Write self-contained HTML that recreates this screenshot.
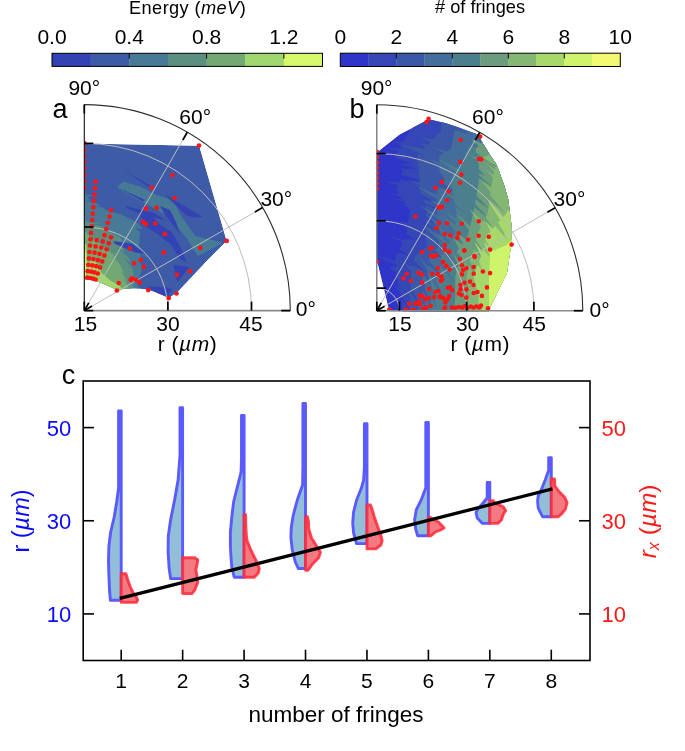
<!DOCTYPE html>
<html><head><meta charset="utf-8"><style>
html,body{margin:0;padding:0;background:#fff;width:685px;height:751px;overflow:hidden}
svg{display:block;will-change:transform}
text{font-family:"Liberation Sans",sans-serif}
</style></head><body>
<svg width="685" height="751" viewBox="0 0 685 751">
<rect width="685" height="751" fill="#fff"/>
<rect x="52.00" y="53.30" width="38.94" height="13.10" fill="#3343b4"/>
<rect x="90.64" y="53.30" width="38.94" height="13.10" fill="#3e5ba8"/>
<rect x="129.29" y="53.30" width="38.94" height="13.10" fill="#467a97"/>
<rect x="167.93" y="53.30" width="38.94" height="13.10" fill="#5b8f80"/>
<rect x="206.57" y="53.30" width="38.94" height="13.10" fill="#72a872"/>
<rect x="245.21" y="53.30" width="38.94" height="13.10" fill="#9fd76e"/>
<rect x="283.86" y="53.30" width="38.94" height="13.10" fill="#d5f96a"/>
<rect x="52.00" y="53.30" width="270.50" height="13.10" fill="none" stroke="#000" stroke-width="1"/>
<line x1="129.29" y1="53.30" x2="129.29" y2="58.60" stroke="#000" stroke-width="1"/>
<line x1="206.57" y1="53.30" x2="206.57" y2="58.60" stroke="#000" stroke-width="1"/>
<line x1="283.86" y1="53.30" x2="283.86" y2="58.60" stroke="#000" stroke-width="1"/>
<text x="52.00" y="43.80" font-size="21" text-anchor="middle" fill="#000" >0.0</text>
<text x="129.29" y="43.80" font-size="21" text-anchor="middle" fill="#000" >0.4</text>
<text x="206.57" y="43.80" font-size="21" text-anchor="middle" fill="#000" >0.8</text>
<text x="283.86" y="43.80" font-size="21" text-anchor="middle" fill="#000" >1.2</text>
<text x="187.60" y="13.90" font-size="18.2" text-anchor="middle" fill="#000" letter-spacing="0.4">Energy (<tspan font-style="italic">meV</tspan>)</text>
<rect x="340.30" y="53.20" width="28.30" height="13.30" fill="#2f35c9"/>
<rect x="368.30" y="53.20" width="28.30" height="13.30" fill="#3546b6"/>
<rect x="396.30" y="53.20" width="28.30" height="13.30" fill="#3b57a8"/>
<rect x="424.30" y="53.20" width="28.30" height="13.30" fill="#436e9c"/>
<rect x="452.30" y="53.20" width="28.30" height="13.30" fill="#4b7f8e"/>
<rect x="480.30" y="53.20" width="28.30" height="13.30" fill="#6b9d7c"/>
<rect x="508.30" y="53.20" width="28.30" height="13.30" fill="#85b774"/>
<rect x="536.30" y="53.20" width="28.30" height="13.30" fill="#a6d86c"/>
<rect x="564.30" y="53.20" width="28.30" height="13.30" fill="#cef46b"/>
<rect x="592.30" y="53.20" width="28.30" height="13.30" fill="#f2f972"/>
<rect x="340.30" y="53.20" width="280.00" height="13.30" fill="none" stroke="#000" stroke-width="1"/>
<line x1="396.30" y1="53.20" x2="396.30" y2="58.50" stroke="#000" stroke-width="1"/>
<line x1="452.30" y1="53.20" x2="452.30" y2="58.50" stroke="#000" stroke-width="1"/>
<line x1="508.30" y1="53.20" x2="508.30" y2="58.50" stroke="#000" stroke-width="1"/>
<line x1="564.30" y1="53.20" x2="564.30" y2="58.50" stroke="#000" stroke-width="1"/>
<text x="340.30" y="43.80" font-size="21" text-anchor="middle" fill="#000" >0</text>
<text x="396.30" y="43.80" font-size="21" text-anchor="middle" fill="#000" >2</text>
<text x="452.30" y="43.80" font-size="21" text-anchor="middle" fill="#000" >4</text>
<text x="508.30" y="43.80" font-size="21" text-anchor="middle" fill="#000" >6</text>
<text x="564.30" y="43.80" font-size="21" text-anchor="middle" fill="#000" >8</text>
<text x="620.30" y="43.80" font-size="21" text-anchor="middle" fill="#000" >10</text>
<text x="480.00" y="13.20" font-size="18.2" text-anchor="middle" fill="#000" ># of fringes</text>
<defs><clipPath id="ca"><polygon points="84.3,143.5 199.2,145.7 226.7,241 207.7,260 177,292.8 168.5,298.3 156,292.5 148.2,290.1 142.4,288.9 133,288.3 123.7,288.9 117.3,290.1 107.4,285.4 95.7,280.7 84.3,279"/></clipPath>
<clipPath id="cb"><polygon points="376.8,152.4 399.5,134.5 425,121.2 431.2,119.7 446,123.3 454.4,126.1 477.7,134.4 482.2,142.2 491,156.6 496.6,164.4 504.4,186 508.3,199.5 511.5,225.8 511.8,242.6 510,252.1 506.9,273.6 490.1,307.3 488.5,311.5 389.3,311.5 377,261"/></clipPath>
<clipPath id="qa"><rect x="84.3" y="100" width="215" height="211"/></clipPath>
<clipPath id="qb"><rect x="376.8" y="100" width="215" height="211"/></clipPath></defs>
<g clip-path="url(#ca)">
<polygon points="84.3,143.5 199.2,145.7 226.7,241.0 207.7,260.0 177.0,292.8 168.5,298.3 156.0,292.5 148.2,290.1 142.4,288.9 133.0,288.3 123.7,288.9 117.3,290.1 107.4,285.4 95.7,280.7 84.3,279.0" fill="#3e5ba8" />
<polygon points="84.0,191.4 85.9,194.2 93.3,195.5 87.4,196.5 89.3,199.3 91.3,200.4 84.2,200.7 95.1,202.4 97.1,203.5 100.4,205.9 91.9,205.2 102.6,207.6 105.9,210.0 109.5,211.0 97.4,207.8 112.5,211.9 121.2,214.4 129.6,218.6 139.1,223.4 131.9,219.7 135.5,221.5 142.0,227.6 141.5,229.6 135.6,227.5 140.5,233.0 140.0,235.0 139.0,245.0 139.7,249.7 148.3,259.3 140.3,253.3 141.0,258.0 141.4,262.4 137.9,259.6 141.6,265.6 142.0,270.0 138.0,280.0 137.3,284.0 140.6,293.7 136.7,288.0 136.0,292.0 136.0,320.0 60.0,320.0 60.0,191.4" fill="#467a97" />
<polygon points="84.0,219.4 87.1,221.9 102.1,223.5 89.7,223.9 92.8,226.4 94.7,226.2 107.8,227.6 99.6,225.7 101.5,225.5 102.2,226.0 88.3,223.7 105.2,228.5 105.9,229.0 112.9,232.5 114.9,233.8 107.3,231.0 118.8,236.5 120.8,237.8 123.4,249.5 125.4,252.7 115.0,245.9 128.0,256.8 130.0,260.0 130.8,262.9 123.6,257.3 132.2,268.1 133.0,271.0 134.0,280.0 134.0,283.5 128.5,275.0 134.0,288.5 134.0,292.0 134.0,320.0 60.0,320.0 60.0,219.4" fill="#5b8f80" />
<polygon points="84.0,230.0 90.0,237.0 100.0,244.0 108.0,250.0 110.6,252.6 119.8,257.5 112.4,254.4 115.0,257.0 116.8,259.9 111.8,257.2 118.2,262.1 120.0,265.0 124.0,273.0 124.5,274.4 120.6,271.0 126.5,279.6 127.0,281.0 127.3,282.3 123.0,276.4 128.7,287.7 129.0,289.0 129.0,292.0 129.0,320.0 60.0,320.0 60.0,230.0" fill="#72a872" />
<polygon points="84.0,244.0 86.2,244.0 87.5,262.0 93.0,261.0 98.0,264.0 101.5,272.7 110.3,280.5 117.3,284.0 123.0,289.5 123.0,300.0 84.0,300.0" fill="#9fd76e" />
<polygon points="84.0,252.0 85.6,252.0 86.0,278.0 84.0,280.0" fill="#d5f96a" />
<polygon points="123.4,181.6 140.9,187.1 156.3,194.7 169.4,199.1 176.0,205.7 180.3,214.4 189.1,227.6 195.7,236.3 215.4,240.7 223.0,243.0 198.0,256.0 193.5,249.5 186.9,238.5 176.0,225.4 165.0,214.4 149.7,205.7 136.6,199.1 121.2,190.4 116.8,187.1" fill="#467a97" />
<polygon points="122.3,169.6 151.2,186.3 148.0,186.5" fill="#3343b4" />
<polygon points="117.0,187.2 145.0,200.0 143.0,201.5" fill="#3343b4" />
<polygon points="164.3,194.2 202.9,216.9 195.0,217.5 187.0,216.0" fill="#3343b4" />
<polygon points="124.9,205.8 154.1,213.1 165.8,220.4 142.4,214.6 127.8,208.8" fill="#3343b4" />
<polygon points="139.5,214.6 152.6,216.1 159.9,224.8 171.6,232.1 178.9,243.8 186.9,262.6 180.3,259.3 171.6,245.3 157.0,233.6 145.3,226.3" fill="#3343b4" />
<polygon points="160.0,206.0 170.0,210.0 176.0,222.0 180.0,234.0 174.0,226.0 166.0,216.0" fill="#3343b4" />
<polygon points="113.2,240.9 132.2,243.8 145.3,254.0 135.1,252.6 114.7,243.8" fill="#3343b4" />
<polygon points="173.5,265.1 189.3,267.1 177.4,282.2" fill="#3343b4" />
<polygon points="166.3,286.8 172.2,289.4 168.2,296.0" fill="#3343b4" />
<polygon points="147.5,286.3 165.8,287.6 170.0,296.4 157.0,293.4" fill="#3343b4" />
</g>
<g clip-path="url(#cb)">
<polygon points="376.8,152.4 399.5,134.5 425.0,121.2 431.2,119.7 446.0,123.3 454.4,126.1 477.7,134.4 482.2,142.2 491.0,156.6 496.6,164.4 504.4,186.0 508.3,199.5 511.5,225.8 511.8,242.6 510.0,252.1 506.9,273.6 490.1,307.3 488.5,311.5 389.3,311.5 377.0,261.0" fill="#2f35c9" />
<polygon points="426.0,118.0 417.4,124.6 400.0,123.1 412.9,128.0 409.7,130.4 403.3,141.8 391.5,141.5 401.8,144.6 399.6,148.5 380.5,147.1 398.4,150.7 395.4,156.0 396.6,158.5 412.3,163.1 399.0,163.7 399.2,164.0 417.3,169.0 401.2,168.4 402.6,171.3 401.4,175.0 424.3,181.8 399.7,180.2 398.9,182.6 383.6,181.4 398.0,185.2 396.4,190.2 398.9,194.0 390.8,193.5 400.6,196.6 402.4,199.4 389.3,197.2 403.7,201.5 405.7,204.5 396.9,202.9 407.1,206.6 409.7,210.7 408.0,222.5 397.6,220.7 407.4,226.1 406.7,231.1 405.9,233.4 414.5,239.8 404.0,239.0 403.7,240.0 387.6,235.4 402.8,242.6 401.5,246.4 399.2,250.0 410.4,255.7 397.7,252.6 395.4,256.2 395.7,261.6 372.4,253.8 395.8,264.5 395.9,266.9 388.4,266.2 396.2,272.8 396.4,276.7 398.7,288.0 390.2,280.3 399.2,290.9 399.9,294.1 409.7,310.7 400.6,297.6 401.5,302.2 401.6,304.4 405.0,329.5 401.9,309.8 402.0,312.0 600.0,320.0 600.0,100.0" fill="#3546b6" />
<polygon points="441.0,120.0 441.4,130.4 432.9,139.3 420.1,136.9 430.3,142.0 427.9,144.6 418.6,143.3 425.5,147.0 423.8,148.8 397.5,144.0 419.8,153.0 416.9,156.0 418.9,171.3 419.5,182.3 408.3,180.1 419.7,185.5 420.0,190.2 421.5,194.5 440.2,204.2 423.3,199.6 424.3,202.6 442.8,212.0 425.2,205.1 427.1,210.7 426.7,215.0 447.9,229.0 426.1,220.0 425.9,222.5 435.5,229.8 425.5,226.1 425.0,231.1 427.1,246.4 414.8,256.2 413.9,260.6 425.5,272.3 412.9,265.5 412.6,267.1 404.3,263.1 411.5,272.6 410.7,276.7 410.3,287.1 422.5,308.8 410.1,291.8 410.0,294.6 402.6,279.5 409.9,297.0 409.7,302.2 409.7,312.0 600.0,320.0 600.0,100.0" fill="#3b57a8" />
<polygon points="456.0,124.0 455.6,126.1 471.3,134.9 454.8,129.9 454.4,132.0 451.0,148.8 446.6,151.5 433.7,147.4 443.8,153.3 439.4,156.0 439.4,162.2 427.7,158.7 439.4,165.1 439.4,171.3 445.0,180.0 442.9,182.8 455.6,192.5 439.4,187.4 437.3,190.2 437.3,194.9 415.7,185.5 437.3,199.2 437.3,202.3 430.0,199.8 437.3,205.4 437.3,210.7 437.8,215.5 419.3,205.2 438.2,219.5 438.5,222.2 424.1,213.8 438.9,226.4 439.4,231.1 439.3,236.5 422.5,224.3 439.1,241.0 439.0,246.4 435.6,249.8 443.4,260.3 432.5,252.8 429.1,256.2 429.1,261.0 443.7,279.1 429.1,265.0 429.1,267.4 418.6,256.4 429.1,272.3 429.1,276.7 427.6,280.4 418.0,267.7 425.5,285.8 424.6,287.9 433.8,311.1 423.4,291.0 422.0,294.5 429.3,319.5 420.9,297.2 418.9,302.2 418.6,305.5 417.1,291.2 418.3,308.7 418.0,312.0 600.0,320.0 600.0,100.0" fill="#436e9c" />
<polygon points="478.0,132.0 476.0,135.2 492.0,147.5 473.1,140.0 471.9,142.0 489.3,153.5 470.4,144.4 467.7,148.8 462.2,165.5 459.6,169.3 436.8,158.3 457.3,172.7 451.0,182.0 453.5,195.9 440.8,188.8 454.1,199.4 455.0,204.3 466.2,213.7 455.4,206.7 456.6,213.3 456.0,218.9 443.9,210.2 455.7,222.5 455.4,225.1 442.6,216.3 454.8,231.1 454.4,235.5 452.0,239.3 433.7,222.1 450.3,242.1 448.7,244.6 433.1,229.6 447.1,247.1 445.5,249.6 460.8,269.4 443.8,252.4 441.4,256.2 440.5,260.6 454.8,282.6 439.6,265.4 439.1,267.9 443.6,277.4 438.3,271.8 437.3,276.7 436.4,280.5 446.3,305.6 435.2,285.6 434.9,286.8 426.1,267.5 433.6,292.1 433.4,293.0 436.4,309.5 432.1,298.6 431.2,302.2 430.8,305.5 429.9,296.8 430.4,308.7 430.0,312.0 600.0,320.0 600.0,100.0" fill="#4b7f8e" />
<polygon points="484.0,140.0 480.8,143.3 470.5,138.7 478.7,145.5 475.5,148.8 476.3,152.7 488.0,161.6 476.9,156.1 477.5,158.7 468.4,153.7 477.9,161.1 478.8,165.5 478.8,168.8 485.5,175.9 478.8,173.2 478.8,175.1 492.0,186.5 478.8,177.9 478.8,182.0 476.4,195.8 488.8,208.8 475.7,199.5 475.0,203.7 489.6,219.4 474.4,207.3 473.3,213.3 470.0,226.3 456.6,213.6 469.1,229.9 467.7,235.5 465.4,238.9 457.5,232.9 462.6,243.1 461.8,244.2 453.6,237.8 458.8,248.8 456.6,252.0 460.4,256.2 459.1,261.4 452.1,251.7 458.3,264.7 457.4,268.2 452.1,260.2 456.6,271.5 455.3,276.7 455.3,297.1 454.8,302.8 455.6,316.9 454.5,306.3 454.0,312.0 600.0,320.0 600.0,100.0" fill="#6b9d7c" />
<polygon points="482.0,158.0 487.2,160.6 482.6,156.7 490.8,162.4 496.0,165.0 494.9,169.5 485.8,163.2 494.4,171.8 493.6,175.1 486.1,170.0 493.0,177.6 492.0,182.0 491.2,187.6 481.1,180.6 490.6,192.1 490.2,195.2 505.1,212.9 489.5,200.1 487.7,213.3 485.6,217.5 493.9,229.4 484.3,220.2 483.4,222.0 469.7,209.3 480.9,226.8 476.6,235.5 475.8,239.6 487.7,258.3 475.2,242.4 474.9,243.9 483.8,260.8 473.9,249.1 473.3,252.0 470.7,256.2 469.8,260.6 480.4,284.4 468.9,265.4 468.3,268.1 464.5,262.1 467.6,271.7 466.6,276.7 467.0,281.2 473.9,305.6 467.5,285.8 467.8,289.1 463.5,270.5 468.1,291.5 468.6,297.1 468.4,302.4 466.9,283.1 468.2,306.7 468.0,312.0 600.0,320.0 600.0,100.0" fill="#85b774" />
<polygon points="512.0,198.0 510.8,201.5 516.0,210.3 509.6,204.7 508.9,206.7 516.3,218.3 507.9,209.7 506.6,213.3 502.9,217.4 486.4,198.3 500.3,220.3 498.1,222.7 508.5,240.9 495.1,226.1 492.7,228.7 486.2,222.3 490.5,231.2 486.6,235.5 485.4,239.8 492.4,252.3 484.8,242.2 484.3,244.1 490.3,257.5 483.0,248.9 482.2,252.0 482.2,252.2 475.3,242.5 480.9,256.0 480.9,256.2 479.0,261.6 482.8,272.2 478.0,264.5 473.7,276.7 476.4,287.4 480.3,306.2 477.8,293.2 478.8,297.1 478.9,301.6 478.1,291.7 478.9,307.5 479.0,312.0 600.0,320.0 600.0,100.0" fill="#a6d86c" />
<polygon points="515.0,236.0 506.6,245.0 490.0,252.0 490.0,256.2 489.0,276.7 489.0,297.1 489.0,312.0 600.0,320.0 600.0,100.0" fill="#cef46b" />
</g>
<path d="M167.90,310.60 A83.60,83.60 0 0 0 84.30,227.00" fill="none" stroke="#bdbdbd" stroke-width="1.0"/>
<path d="M251.50,310.60 A167.20,167.20 0 0 0 84.30,143.40" fill="none" stroke="#bdbdbd" stroke-width="1.0"/>
<line x1="84.30" y1="310.60" x2="262.70" y2="207.60" stroke="#bdbdbd" stroke-width="1.0" />
<line x1="84.30" y1="310.60" x2="187.30" y2="132.20" stroke="#bdbdbd" stroke-width="1.0" />
<path d="M399.40,310.70 A22.60,22.60 0 0 0 376.80,288.10" fill="none" stroke="#bdbdbd" stroke-width="1.0"/>
<path d="M466.70,310.70 A89.90,89.90 0 0 0 376.80,220.80" fill="none" stroke="#bdbdbd" stroke-width="1.0"/>
<path d="M533.90,310.70 A157.10,157.10 0 0 0 376.80,153.60" fill="none" stroke="#bdbdbd" stroke-width="1.0"/>
<line x1="376.80" y1="310.70" x2="555.20" y2="207.70" stroke="#bdbdbd" stroke-width="1.0" />
<line x1="376.80" y1="310.70" x2="479.80" y2="132.30" stroke="#bdbdbd" stroke-width="1.0" />
<g clip-path="url(#qa)">
<circle cx="84.3" cy="143.1" r="2.35" fill="#ff1414"/>
<circle cx="84.3" cy="149.5" r="2.35" fill="#ff1414"/>
<circle cx="84.3" cy="155.8" r="2.35" fill="#ff1414"/>
<circle cx="84.3" cy="162.2" r="2.35" fill="#ff1414"/>
<circle cx="84.3" cy="168.6" r="2.35" fill="#ff1414"/>
<circle cx="84.3" cy="174.9" r="2.35" fill="#ff1414"/>
<circle cx="84.3" cy="181.3" r="2.35" fill="#ff1414"/>
<circle cx="84.3" cy="187.7" r="2.35" fill="#ff1414"/>
<circle cx="87.2" cy="277.6" r="2.35" fill="#ff1414"/>
<circle cx="87.7" cy="271.2" r="2.35" fill="#ff1414"/>
<circle cx="88.3" cy="264.8" r="2.35" fill="#ff1414"/>
<circle cx="88.9" cy="258.4" r="2.35" fill="#ff1414"/>
<circle cx="89.4" cy="252.0" r="2.35" fill="#ff1414"/>
<circle cx="90.0" cy="245.6" r="2.35" fill="#ff1414"/>
<circle cx="90.5" cy="239.3" r="2.35" fill="#ff1414"/>
<circle cx="91.1" cy="232.9" r="2.35" fill="#ff1414"/>
<circle cx="91.7" cy="226.5" r="2.35" fill="#ff1414"/>
<circle cx="92.2" cy="220.1" r="2.35" fill="#ff1414"/>
<circle cx="92.8" cy="213.7" r="2.35" fill="#ff1414"/>
<circle cx="93.3" cy="207.3" r="2.35" fill="#ff1414"/>
<circle cx="93.9" cy="200.9" r="2.35" fill="#ff1414"/>
<circle cx="94.5" cy="194.5" r="2.35" fill="#ff1414"/>
<circle cx="95.0" cy="188.1" r="2.35" fill="#ff1414"/>
<circle cx="95.6" cy="181.7" r="2.35" fill="#ff1414"/>
<circle cx="90.0" cy="278.0" r="2.35" fill="#ff1414"/>
<circle cx="91.2" cy="271.7" r="2.35" fill="#ff1414"/>
<circle cx="92.3" cy="265.4" r="2.35" fill="#ff1414"/>
<circle cx="93.4" cy="259.0" r="2.35" fill="#ff1414"/>
<circle cx="94.5" cy="252.7" r="2.35" fill="#ff1414"/>
<circle cx="95.6" cy="246.4" r="2.35" fill="#ff1414"/>
<circle cx="96.7" cy="240.1" r="2.35" fill="#ff1414"/>
<circle cx="92.9" cy="278.6" r="2.35" fill="#ff1414"/>
<circle cx="94.5" cy="272.4" r="2.35" fill="#ff1414"/>
<circle cx="96.2" cy="266.2" r="2.35" fill="#ff1414"/>
<circle cx="97.9" cy="260.0" r="2.35" fill="#ff1414"/>
<circle cx="99.5" cy="253.8" r="2.35" fill="#ff1414"/>
<circle cx="101.2" cy="247.6" r="2.35" fill="#ff1414"/>
<circle cx="102.8" cy="241.4" r="2.35" fill="#ff1414"/>
<circle cx="104.5" cy="235.2" r="2.35" fill="#ff1414"/>
<circle cx="106.2" cy="229.0" r="2.35" fill="#ff1414"/>
<circle cx="107.8" cy="222.8" r="2.35" fill="#ff1414"/>
<circle cx="109.5" cy="216.6" r="2.35" fill="#ff1414"/>
<circle cx="111.1" cy="210.4" r="2.35" fill="#ff1414"/>
<circle cx="95.6" cy="279.5" r="2.35" fill="#ff1414"/>
<circle cx="97.8" cy="273.5" r="2.35" fill="#ff1414"/>
<circle cx="100.0" cy="267.4" r="2.35" fill="#ff1414"/>
<circle cx="102.2" cy="261.4" r="2.35" fill="#ff1414"/>
<circle cx="104.4" cy="255.4" r="2.35" fill="#ff1414"/>
<circle cx="106.6" cy="249.3" r="2.35" fill="#ff1414"/>
<circle cx="108.8" cy="243.3" r="2.35" fill="#ff1414"/>
<circle cx="111.0" cy="237.3" r="2.35" fill="#ff1414"/>
<circle cx="199.0" cy="145.6" r="2.35" fill="#ff1414"/>
<circle cx="172.3" cy="175.1" r="2.35" fill="#ff1414"/>
<circle cx="151.7" cy="187.5" r="2.35" fill="#ff1414"/>
<circle cx="174.6" cy="198.0" r="2.35" fill="#ff1414"/>
<circle cx="145.9" cy="208.7" r="2.35" fill="#ff1414"/>
<circle cx="156.6" cy="207.8" r="2.35" fill="#ff1414"/>
<circle cx="143.1" cy="221.8" r="2.35" fill="#ff1414"/>
<circle cx="146.1" cy="224.2" r="2.35" fill="#ff1414"/>
<circle cx="155.2" cy="223.5" r="2.35" fill="#ff1414"/>
<circle cx="164.8" cy="233.9" r="2.35" fill="#ff1414"/>
<circle cx="226.7" cy="240.9" r="2.35" fill="#ff1414"/>
<circle cx="200.3" cy="247.9" r="2.35" fill="#ff1414"/>
<circle cx="129.8" cy="248.6" r="2.35" fill="#ff1414"/>
<circle cx="163.8" cy="252.7" r="2.35" fill="#ff1414"/>
<circle cx="140.8" cy="259.9" r="2.35" fill="#ff1414"/>
<circle cx="134.1" cy="263.3" r="2.35" fill="#ff1414"/>
<circle cx="143.8" cy="266.9" r="2.35" fill="#ff1414"/>
<circle cx="189.8" cy="271.3" r="2.35" fill="#ff1414"/>
<circle cx="177.0" cy="274.8" r="2.35" fill="#ff1414"/>
<circle cx="130.7" cy="279.8" r="2.35" fill="#ff1414"/>
<circle cx="131.9" cy="278.4" r="2.35" fill="#ff1414"/>
<circle cx="136.0" cy="279.9" r="2.35" fill="#ff1414"/>
<circle cx="139.6" cy="282.4" r="2.35" fill="#ff1414"/>
<circle cx="118.7" cy="283.0" r="2.35" fill="#ff1414"/>
<circle cx="116.9" cy="290.5" r="2.35" fill="#ff1414"/>
<circle cx="148.2" cy="290.1" r="2.35" fill="#ff1414"/>
<circle cx="168.8" cy="298.1" r="2.35" fill="#ff1414"/>
<circle cx="176.5" cy="293.5" r="2.35" fill="#ff1414"/>
</g>
<g clip-path="url(#qb)">
<circle cx="377.3" cy="151.9" r="2.1" fill="#ff1414"/>
<circle cx="377.3" cy="157.1" r="2.1" fill="#ff1414"/>
<circle cx="377.3" cy="162.4" r="2.1" fill="#ff1414"/>
<circle cx="377.3" cy="167.6" r="2.1" fill="#ff1414"/>
<circle cx="377.3" cy="172.9" r="2.1" fill="#ff1414"/>
<circle cx="377.3" cy="178.1" r="2.1" fill="#ff1414"/>
<circle cx="377.3" cy="183.4" r="2.1" fill="#ff1414"/>
<circle cx="377.3" cy="188.6" r="2.1" fill="#ff1414"/>
<circle cx="377.3" cy="261.5" r="2.1" fill="#ff1414"/>
<circle cx="428.6" cy="118.7" r="2.3" fill="#ff1414"/>
<circle cx="426.6" cy="122.1" r="2.3" fill="#ff1414"/>
<circle cx="480.2" cy="136.6" r="2.3" fill="#ff1414"/>
<circle cx="460.5" cy="139.7" r="2.3" fill="#ff1414"/>
<circle cx="478.8" cy="159.0" r="2.3" fill="#ff1414"/>
<circle cx="481.3" cy="159.4" r="2.3" fill="#ff1414"/>
<circle cx="460.3" cy="161.9" r="2.3" fill="#ff1414"/>
<circle cx="461.4" cy="174.6" r="2.3" fill="#ff1414"/>
<circle cx="441.9" cy="181.9" r="2.3" fill="#ff1414"/>
<circle cx="460.0" cy="182.7" r="2.3" fill="#ff1414"/>
<circle cx="435.6" cy="187.9" r="2.3" fill="#ff1414"/>
<circle cx="438.8" cy="207.4" r="2.3" fill="#ff1414"/>
<circle cx="441.9" cy="206.9" r="2.3" fill="#ff1414"/>
<circle cx="415.5" cy="216.5" r="2.3" fill="#ff1414"/>
<circle cx="439.0" cy="222.9" r="2.3" fill="#ff1414"/>
<circle cx="436.6" cy="228.2" r="2.3" fill="#ff1414"/>
<circle cx="444.7" cy="234.0" r="2.3" fill="#ff1414"/>
<circle cx="431.7" cy="247.8" r="2.3" fill="#ff1414"/>
<circle cx="430.2" cy="248.7" r="2.3" fill="#ff1414"/>
<circle cx="444.7" cy="245.0" r="2.3" fill="#ff1414"/>
<circle cx="448.7" cy="191.6" r="2.3" fill="#ff1414"/>
<circle cx="446.9" cy="200.2" r="2.3" fill="#ff1414"/>
<circle cx="478.8" cy="221.3" r="2.3" fill="#ff1414"/>
<circle cx="447.2" cy="223.3" r="2.3" fill="#ff1414"/>
<circle cx="461.9" cy="223.8" r="2.3" fill="#ff1414"/>
<circle cx="450.3" cy="235.3" r="2.3" fill="#ff1414"/>
<circle cx="458.6" cy="233.4" r="2.3" fill="#ff1414"/>
<circle cx="457.2" cy="237.9" r="2.3" fill="#ff1414"/>
<circle cx="468.0" cy="239.6" r="2.3" fill="#ff1414"/>
<circle cx="478.6" cy="235.8" r="2.3" fill="#ff1414"/>
<circle cx="488.8" cy="236.8" r="2.3" fill="#ff1414"/>
<circle cx="445.0" cy="249.7" r="2.3" fill="#ff1414"/>
<circle cx="449.1" cy="251.8" r="2.3" fill="#ff1414"/>
<circle cx="464.4" cy="250.5" r="2.3" fill="#ff1414"/>
<circle cx="490.1" cy="249.6" r="2.3" fill="#ff1414"/>
<circle cx="511.6" cy="244.6" r="2.3" fill="#ff1414"/>
<circle cx="474.4" cy="256.0" r="2.3" fill="#ff1414"/>
<circle cx="422.0" cy="252.1" r="2.3" fill="#ff1414"/>
<circle cx="431.2" cy="255.7" r="2.3" fill="#ff1414"/>
<circle cx="433.2" cy="256.7" r="2.3" fill="#ff1414"/>
<circle cx="436.3" cy="255.4" r="2.3" fill="#ff1414"/>
<circle cx="442.9" cy="262.1" r="2.3" fill="#ff1414"/>
<circle cx="437.8" cy="268.0" r="2.3" fill="#ff1414"/>
<circle cx="406.7" cy="273.8" r="2.3" fill="#ff1414"/>
<circle cx="403.4" cy="278.5" r="2.3" fill="#ff1414"/>
<circle cx="410.9" cy="280.7" r="2.3" fill="#ff1414"/>
<circle cx="418.4" cy="272.8" r="2.3" fill="#ff1414"/>
<circle cx="422.0" cy="274.8" r="2.3" fill="#ff1414"/>
<circle cx="432.2" cy="273.8" r="2.3" fill="#ff1414"/>
<circle cx="437.8" cy="274.1" r="2.3" fill="#ff1414"/>
<circle cx="441.4" cy="276.7" r="2.3" fill="#ff1414"/>
<circle cx="440.9" cy="280.7" r="2.3" fill="#ff1414"/>
<circle cx="422.0" cy="282.6" r="2.3" fill="#ff1414"/>
<circle cx="428.9" cy="289.1" r="2.3" fill="#ff1414"/>
<circle cx="435.3" cy="292.0" r="2.3" fill="#ff1414"/>
<circle cx="438.3" cy="291.0" r="2.3" fill="#ff1414"/>
<circle cx="434.2" cy="297.1" r="2.3" fill="#ff1414"/>
<circle cx="439.9" cy="297.1" r="2.3" fill="#ff1414"/>
<circle cx="443.4" cy="298.1" r="2.3" fill="#ff1414"/>
<circle cx="419.9" cy="295.6" r="2.3" fill="#ff1414"/>
<circle cx="422.5" cy="296.3" r="2.3" fill="#ff1414"/>
<circle cx="425.6" cy="299.6" r="2.3" fill="#ff1414"/>
<circle cx="428.6" cy="298.1" r="2.3" fill="#ff1414"/>
<circle cx="409.2" cy="303.7" r="2.3" fill="#ff1414"/>
<circle cx="415.3" cy="303.7" r="2.3" fill="#ff1414"/>
<circle cx="418.9" cy="301.2" r="2.3" fill="#ff1414"/>
<circle cx="419.9" cy="304.2" r="2.3" fill="#ff1414"/>
<circle cx="430.7" cy="305.8" r="2.3" fill="#ff1414"/>
<circle cx="426.1" cy="307.8" r="2.3" fill="#ff1414"/>
<circle cx="423.0" cy="308.8" r="2.3" fill="#ff1414"/>
<circle cx="389.3" cy="309.6" r="2.3" fill="#ff1414"/>
<circle cx="405.6" cy="309.6" r="2.3" fill="#ff1414"/>
<circle cx="411.3" cy="310.2" r="2.3" fill="#ff1414"/>
<circle cx="414.3" cy="310.2" r="2.3" fill="#ff1414"/>
<circle cx="444.5" cy="308.3" r="2.3" fill="#ff1414"/>
<circle cx="445.5" cy="302.2" r="2.3" fill="#ff1414"/>
<circle cx="449.2" cy="251.9" r="2.3" fill="#ff1414"/>
<circle cx="464.3" cy="250.6" r="2.3" fill="#ff1414"/>
<circle cx="474.7" cy="257.0" r="2.3" fill="#ff1414"/>
<circle cx="459.9" cy="259.1" r="2.3" fill="#ff1414"/>
<circle cx="443.1" cy="262.1" r="2.3" fill="#ff1414"/>
<circle cx="446.3" cy="265.9" r="2.3" fill="#ff1414"/>
<circle cx="449.7" cy="269.5" r="2.3" fill="#ff1414"/>
<circle cx="462.0" cy="265.2" r="2.3" fill="#ff1414"/>
<circle cx="466.4" cy="268.3" r="2.3" fill="#ff1414"/>
<circle cx="463.0" cy="270.0" r="2.3" fill="#ff1414"/>
<circle cx="473.7" cy="267.0" r="2.3" fill="#ff1414"/>
<circle cx="482.9" cy="271.5" r="2.3" fill="#ff1414"/>
<circle cx="490.1" cy="273.1" r="2.3" fill="#ff1414"/>
<circle cx="473.7" cy="273.8" r="2.3" fill="#ff1414"/>
<circle cx="462.0" cy="274.4" r="2.3" fill="#ff1414"/>
<circle cx="441.0" cy="276.7" r="2.3" fill="#ff1414"/>
<circle cx="442.0" cy="279.7" r="2.3" fill="#ff1414"/>
<circle cx="470.0" cy="281.6" r="2.3" fill="#ff1414"/>
<circle cx="464.5" cy="282.8" r="2.3" fill="#ff1414"/>
<circle cx="460.4" cy="285.1" r="2.3" fill="#ff1414"/>
<circle cx="473.5" cy="285.0" r="2.3" fill="#ff1414"/>
<circle cx="487.0" cy="287.4" r="2.3" fill="#ff1414"/>
<circle cx="447.7" cy="287.7" r="2.3" fill="#ff1414"/>
<circle cx="450.2" cy="287.4" r="2.3" fill="#ff1414"/>
<circle cx="452.3" cy="290.5" r="2.3" fill="#ff1414"/>
<circle cx="460.4" cy="289.4" r="2.3" fill="#ff1414"/>
<circle cx="466.4" cy="289.4" r="2.3" fill="#ff1414"/>
<circle cx="473.7" cy="293.0" r="2.3" fill="#ff1414"/>
<circle cx="477.5" cy="292.0" r="2.3" fill="#ff1414"/>
<circle cx="458.9" cy="293.5" r="2.3" fill="#ff1414"/>
<circle cx="461.5" cy="295.0" r="2.3" fill="#ff1414"/>
<circle cx="481.9" cy="295.9" r="2.3" fill="#ff1414"/>
<circle cx="440.0" cy="296.1" r="2.3" fill="#ff1414"/>
<circle cx="443.1" cy="298.1" r="2.3" fill="#ff1414"/>
<circle cx="447.7" cy="299.1" r="2.3" fill="#ff1414"/>
<circle cx="449.2" cy="296.1" r="2.3" fill="#ff1414"/>
<circle cx="466.4" cy="297.6" r="2.3" fill="#ff1414"/>
<circle cx="445.1" cy="307.3" r="2.3" fill="#ff1414"/>
<circle cx="451.8" cy="307.5" r="2.3" fill="#ff1414"/>
<circle cx="455.5" cy="307.8" r="2.3" fill="#ff1414"/>
<circle cx="459.0" cy="307.0" r="2.3" fill="#ff1414"/>
<circle cx="462.5" cy="307.5" r="2.3" fill="#ff1414"/>
<circle cx="465.0" cy="306.0" r="2.3" fill="#ff1414"/>
<circle cx="467.5" cy="308.0" r="2.3" fill="#ff1414"/>
<circle cx="470.5" cy="306.5" r="2.3" fill="#ff1414"/>
<circle cx="473.5" cy="307.5" r="2.3" fill="#ff1414"/>
<circle cx="476.5" cy="306.5" r="2.3" fill="#ff1414"/>
<circle cx="479.5" cy="307.5" r="2.3" fill="#ff1414"/>
<circle cx="481.0" cy="305.5" r="2.3" fill="#ff1414"/>
<circle cx="488.0" cy="308.3" r="2.3" fill="#ff1414"/>
</g>
<line x1="84.30" y1="310.60" x2="84.30" y2="104.60" stroke="#111" stroke-width="1.1" />
<line x1="84.30" y1="310.60" x2="290.30" y2="310.60" stroke="#8a8a8a" stroke-width="1.6" />
<path d="M290.30,310.60 A206.00,206.00 0 0 0 84.30,104.60" fill="none" stroke="#2e2e2e" stroke-width="1.1"/>
<line x1="167.90" y1="310.60" x2="167.90" y2="301.60" stroke="#000" stroke-width="1.7" />
<line x1="84.30" y1="227.00" x2="93.30" y2="227.00" stroke="#000" stroke-width="1.7" />
<line x1="251.50" y1="310.60" x2="251.50" y2="301.60" stroke="#000" stroke-width="1.7" />
<line x1="84.30" y1="143.40" x2="93.30" y2="143.40" stroke="#000" stroke-width="1.7" />
<line x1="281.30" y1="310.60" x2="290.30" y2="310.60" stroke="#000" stroke-width="1.7" />
<line x1="84.30" y1="310.60" x2="93.30" y2="310.60" stroke="#000" stroke-width="1.7" />
<line x1="254.91" y1="212.10" x2="262.70" y2="207.60" stroke="#000" stroke-width="1.7" />
<line x1="84.30" y1="310.60" x2="92.09" y2="306.10" stroke="#000" stroke-width="1.7" />
<line x1="182.80" y1="139.99" x2="187.30" y2="132.20" stroke="#000" stroke-width="1.7" />
<line x1="84.30" y1="310.60" x2="88.80" y2="302.81" stroke="#000" stroke-width="1.7" />
<line x1="84.30" y1="113.60" x2="84.30" y2="104.60" stroke="#000" stroke-width="1.7" />
<line x1="84.30" y1="310.60" x2="84.30" y2="301.60" stroke="#000" stroke-width="1.7" />
<line x1="376.80" y1="310.70" x2="376.80" y2="104.70" stroke="#727272" stroke-width="1.3" />
<line x1="376.80" y1="310.70" x2="582.80" y2="310.70" stroke="#8a8a8a" stroke-width="1.6" />
<path d="M582.80,310.70 A206.00,206.00 0 0 0 376.80,104.70" fill="none" stroke="#2e2e2e" stroke-width="1.1"/>
<line x1="399.40" y1="310.70" x2="399.40" y2="301.70" stroke="#000" stroke-width="1.7" />
<line x1="376.80" y1="288.10" x2="385.80" y2="288.10" stroke="#000" stroke-width="1.7" />
<line x1="466.70" y1="310.70" x2="466.70" y2="301.70" stroke="#000" stroke-width="1.7" />
<line x1="376.80" y1="220.80" x2="385.80" y2="220.80" stroke="#000" stroke-width="1.7" />
<line x1="533.90" y1="310.70" x2="533.90" y2="301.70" stroke="#000" stroke-width="1.7" />
<line x1="376.80" y1="153.60" x2="385.80" y2="153.60" stroke="#000" stroke-width="1.7" />
<line x1="573.80" y1="310.70" x2="582.80" y2="310.70" stroke="#000" stroke-width="1.7" />
<line x1="376.80" y1="310.70" x2="385.80" y2="310.70" stroke="#000" stroke-width="1.7" />
<line x1="547.41" y1="212.20" x2="555.20" y2="207.70" stroke="#000" stroke-width="1.7" />
<line x1="376.80" y1="310.70" x2="384.59" y2="306.20" stroke="#000" stroke-width="1.7" />
<line x1="475.30" y1="140.09" x2="479.80" y2="132.30" stroke="#000" stroke-width="1.7" />
<line x1="376.80" y1="310.70" x2="381.30" y2="302.91" stroke="#000" stroke-width="1.7" />
<line x1="376.80" y1="113.70" x2="376.80" y2="104.70" stroke="#000" stroke-width="1.7" />
<line x1="376.80" y1="310.70" x2="376.80" y2="301.70" stroke="#000" stroke-width="1.7" />
<text x="84.30" y="94.50" font-size="21" text-anchor="middle" fill="#000" >90°</text>
<text x="195.20" y="124.20" font-size="21" text-anchor="middle" fill="#000" >60°</text>
<text x="276.30" y="205.60" font-size="21" text-anchor="middle" fill="#000" >30°</text>
<text x="305.80" y="316.00" font-size="21" text-anchor="middle" fill="#000" >0°</text>
<text x="59.90" y="118.00" font-size="27" text-anchor="middle" fill="#000" >a</text>
<text x="85.50" y="331.20" font-size="21" text-anchor="middle" fill="#000" >15</text>
<text x="168.00" y="331.20" font-size="21" text-anchor="middle" fill="#000" >30</text>
<text x="251.00" y="331.20" font-size="21" text-anchor="middle" fill="#000" >45</text>
<text x="187.50" y="350.50" font-size="21" text-anchor="middle" fill="#000" letter-spacing="0.5">r (<tspan font-style="italic">µm</tspan>)</text>
<text x="376.60" y="95.00" font-size="21" text-anchor="middle" fill="#000" >90°</text>
<text x="488.00" y="124.00" font-size="21" text-anchor="middle" fill="#000" >60°</text>
<text x="569.50" y="205.50" font-size="21" text-anchor="middle" fill="#000" >30°</text>
<text x="599.50" y="316.50" font-size="21" text-anchor="middle" fill="#000" >0°</text>
<text x="357.00" y="118.00" font-size="27" text-anchor="middle" fill="#000" >b</text>
<text x="400.00" y="331.20" font-size="21" text-anchor="middle" fill="#000" >15</text>
<text x="467.60" y="331.20" font-size="21" text-anchor="middle" fill="#000" >30</text>
<text x="534.20" y="331.20" font-size="21" text-anchor="middle" fill="#000" >45</text>
<text x="480.20" y="350.50" font-size="21" text-anchor="middle" fill="#000" letter-spacing="0.5">r (<tspan font-style="italic">µ</tspan>m)</text>
<rect x="83.2" y="381.0" width="506.8" height="279.5" fill="none" stroke="#000" stroke-width="1.6"/>
<text x="68.60" y="384.00" font-size="27" text-anchor="middle" fill="#000" >c</text>
<line x1="83.20" y1="613.92" x2="94.00" y2="613.92" stroke="#000" stroke-width="1.6" />
<line x1="579.00" y1="613.92" x2="590.00" y2="613.92" stroke="#000" stroke-width="1.6" />
<text x="71.30" y="621.82" font-size="22" text-anchor="end" fill="#0a0aff" >10</text>
<text x="601.50" y="621.82" font-size="22" text-anchor="start" fill="#ff1a1a" >10</text>
<line x1="83.20" y1="520.76" x2="94.00" y2="520.76" stroke="#000" stroke-width="1.6" />
<line x1="579.00" y1="520.76" x2="590.00" y2="520.76" stroke="#000" stroke-width="1.6" />
<text x="71.30" y="528.66" font-size="22" text-anchor="end" fill="#0a0aff" >30</text>
<text x="601.50" y="528.66" font-size="22" text-anchor="start" fill="#ff1a1a" >30</text>
<line x1="83.20" y1="427.60" x2="94.00" y2="427.60" stroke="#000" stroke-width="1.6" />
<line x1="579.00" y1="427.60" x2="590.00" y2="427.60" stroke="#000" stroke-width="1.6" />
<text x="71.30" y="435.50" font-size="22" text-anchor="end" fill="#0a0aff" >50</text>
<text x="601.50" y="435.50" font-size="22" text-anchor="start" fill="#ff1a1a" >50</text>
<line x1="121.20" y1="660.50" x2="121.20" y2="649.70" stroke="#000" stroke-width="1.6" />
<text x="121.20" y="687.60" font-size="21" text-anchor="middle" fill="#000" >1</text>
<line x1="182.64" y1="660.50" x2="182.64" y2="649.70" stroke="#000" stroke-width="1.6" />
<text x="182.64" y="687.60" font-size="21" text-anchor="middle" fill="#000" >2</text>
<line x1="244.08" y1="660.50" x2="244.08" y2="649.70" stroke="#000" stroke-width="1.6" />
<text x="244.08" y="687.60" font-size="21" text-anchor="middle" fill="#000" >3</text>
<line x1="305.52" y1="660.50" x2="305.52" y2="649.70" stroke="#000" stroke-width="1.6" />
<text x="305.52" y="687.60" font-size="21" text-anchor="middle" fill="#000" >4</text>
<line x1="366.96" y1="660.50" x2="366.96" y2="649.70" stroke="#000" stroke-width="1.6" />
<text x="366.96" y="687.60" font-size="21" text-anchor="middle" fill="#000" >5</text>
<line x1="428.40" y1="660.50" x2="428.40" y2="649.70" stroke="#000" stroke-width="1.6" />
<text x="428.40" y="687.60" font-size="21" text-anchor="middle" fill="#000" >6</text>
<line x1="489.84" y1="660.50" x2="489.84" y2="649.70" stroke="#000" stroke-width="1.6" />
<text x="489.84" y="687.60" font-size="21" text-anchor="middle" fill="#000" >7</text>
<line x1="551.28" y1="660.50" x2="551.28" y2="649.70" stroke="#000" stroke-width="1.6" />
<text x="551.28" y="687.60" font-size="21" text-anchor="middle" fill="#000" >8</text>
<text x="336.00" y="722.00" font-size="22.5" text-anchor="middle" fill="#000" >number of fringes</text>
<text transform="translate(29,521) rotate(-90)" font-size="23.5" text-anchor="middle" fill="#0a0aff">r (<tspan font-style="italic">µm</tspan>)</text>
<text transform="translate(655.7,521.4) rotate(-90)" font-size="24.5" text-anchor="middle" fill="#ff1a1a"><tspan font-style="italic">r</tspan><tspan font-style="italic" font-size="16" dy="3.5">x</tspan><tspan dy="-3.5"> (</tspan><tspan font-style="italic">µm</tspan>)</text>
<path d="M121.2,411.0 L118.6,411.0 L118.6,440.0 L118.6,458.5 L118.6,487.8 L116.7,502.0 L114.2,517.0 L110.7,532.0 L108.9,546.0 L108.5,561.0 L108.9,575.6 L109.5,590.0 L110.4,600.3 L121.2,600.3 Z" fill="#92bed8" stroke="#5a5aff" stroke-opacity="1.0" stroke-width="2.9" stroke-linejoin="round"/>
<path d="M182.6,407.8 L180.0,407.8 L180.0,430.0 L180.0,455.0 L178.1,480.0 L174.6,500.0 L170.6,520.0 L168.3,536.0 L168.1,552.0 L169.1,568.0 L170.6,578.6 L182.6,578.6 Z" fill="#92bed8" stroke="#5a5aff" stroke-opacity="1.0" stroke-width="2.9" stroke-linejoin="round"/>
<path d="M244.1,415.5 L241.5,415.5 L241.5,440.0 L241.5,458.5 L241.1,472.0 L237.1,487.8 L233.6,502.0 L231.8,517.0 L230.4,532.0 L230.4,546.0 L230.9,556.0 L231.8,566.8 L234.2,577.2 L244.1,577.2 Z" fill="#92bed8" stroke="#5a5aff" stroke-opacity="1.0" stroke-width="2.9" stroke-linejoin="round"/>
<path d="M305.5,403.5 L302.9,403.5 L302.9,425.0 L302.9,443.9 L302.9,465.0 L302.6,484.9 L297.3,500.0 L293.3,515.0 L291.3,527.0 L290.9,537.5 L292.3,550.0 L295.3,562.0 L298.3,568.5 L305.5,568.5 Z" fill="#92bed8" stroke="#5a5aff" stroke-opacity="1.0" stroke-width="2.9" stroke-linejoin="round"/>
<path d="M367.0,423.8 L364.4,423.8 L364.4,445.0 L364.4,467.3 L363.6,480.0 L361.5,487.8 L356.6,500.0 L353.6,512.0 L352.7,522.9 L353.6,533.0 L356.5,543.6 L367.0,543.6 Z" fill="#92bed8" stroke="#5a5aff" stroke-opacity="1.0" stroke-width="2.9" stroke-linejoin="round"/>
<path d="M428.4,422.4 L425.8,422.4 L425.8,450.0 L425.8,475.0 L425.8,487.8 L421.2,500.0 L416.2,510.0 L414.6,520.0 L415.7,529.0 L417.6,535.7 L428.4,535.7 Z" fill="#92bed8" stroke="#5a5aff" stroke-opacity="1.0" stroke-width="2.9" stroke-linejoin="round"/>
<path d="M489.8,482.4 L487.2,482.4 L487.2,490.0 L487.2,498.0 L482.2,504.0 L477.7,509.0 L476.1,512.7 L477.2,518.0 L482.5,523.4 L489.8,523.4 Z" fill="#92bed8" stroke="#5a5aff" stroke-opacity="1.0" stroke-width="2.9" stroke-linejoin="round"/>
<path d="M551.3,457.6 L548.7,457.6 L548.7,462.0 L548.7,470.2 L545.2,480.0 L541.2,490.0 L538.2,496.0 L537.6,501.0 L538.2,508.0 L542.5,516.7 L551.3,516.7 Z" fill="#92bed8" stroke="#5a5aff" stroke-opacity="1.0" stroke-width="2.9" stroke-linejoin="round"/>
<path d="M121.2,573.8 L126.0,573.8 L127.8,580.0 L130.4,587.3 L132.8,592.0 L136.3,597.0 L137.7,600.0 L136.3,602.4 L121.2,602.4 Z" fill="#f27a80" stroke="#ff2838" stroke-opacity="0.85" stroke-width="2.9" stroke-linejoin="round"/>
<path d="M182.6,557.7 L194.8,557.7 L197.8,560.0 L196.8,566.0 L195.8,569.7 L196.8,575.0 L197.8,582.0 L194.8,590.0 L191.8,593.6 L182.6,593.6 Z" fill="#f27a80" stroke="#ff2838" stroke-opacity="0.85" stroke-width="2.9" stroke-linejoin="round"/>
<path d="M244.1,514.6 L245.6,514.6 L245.8,525.0 L246.3,535.0 L247.0,540.5 L250.8,550.0 L255.8,560.0 L259.3,568.3 L258.3,573.0 L254.3,577.2 L244.1,577.2 Z" fill="#f27a80" stroke="#ff2838" stroke-opacity="0.85" stroke-width="2.9" stroke-linejoin="round"/>
<path d="M305.5,516.7 L307.5,516.7 L308.5,522.0 L308.7,528.8 L311.5,538.0 L316.5,546.0 L320.5,552.2 L318.5,558.0 L312.5,564.0 L308.1,570.2 L305.5,570.2 Z" fill="#f27a80" stroke="#ff2838" stroke-opacity="0.85" stroke-width="2.9" stroke-linejoin="round"/>
<path d="M367.0,505.0 L370.5,505.0 L372.3,510.0 L374.3,517.0 L377.8,527.0 L380.8,535.0 L382.2,540.5 L380.8,545.0 L375.8,548.9 L367.0,548.9 Z" fill="#f27a80" stroke="#ff2838" stroke-opacity="0.85" stroke-width="2.9" stroke-linejoin="round"/>
<path d="M428.4,517.5 L430.4,517.5 L432.4,519.0 L438.4,522.0 L444.1,527.9 L440.4,530.0 L435.4,532.0 L431.0,535.7 L428.4,535.7 Z" fill="#f27a80" stroke="#ff2838" stroke-opacity="0.85" stroke-width="2.9" stroke-linejoin="round"/>
<path d="M489.8,500.6 L493.4,500.6 L493.9,502.4 L499.4,505.0 L503.4,507.0 L505.6,510.6 L503.4,514.0 L501.4,520.0 L497.7,523.4 L489.8,523.4 Z" fill="#f27a80" stroke="#ff2838" stroke-opacity="0.85" stroke-width="2.9" stroke-linejoin="round"/>
<path d="M551.3,478.9 L554.5,478.9 L554.9,486.0 L559.4,492.0 L564.4,497.0 L567.1,502.4 L565.4,509.0 L561.4,514.0 L558.3,516.7 L551.3,516.7 Z" fill="#f27a80" stroke="#ff2838" stroke-opacity="0.85" stroke-width="2.9" stroke-linejoin="round"/>
<line x1="119.80" y1="598.40" x2="552.50" y2="488.90" stroke="#000" stroke-width="3.3" stroke-linecap="butt"/>
</svg></body></html>
